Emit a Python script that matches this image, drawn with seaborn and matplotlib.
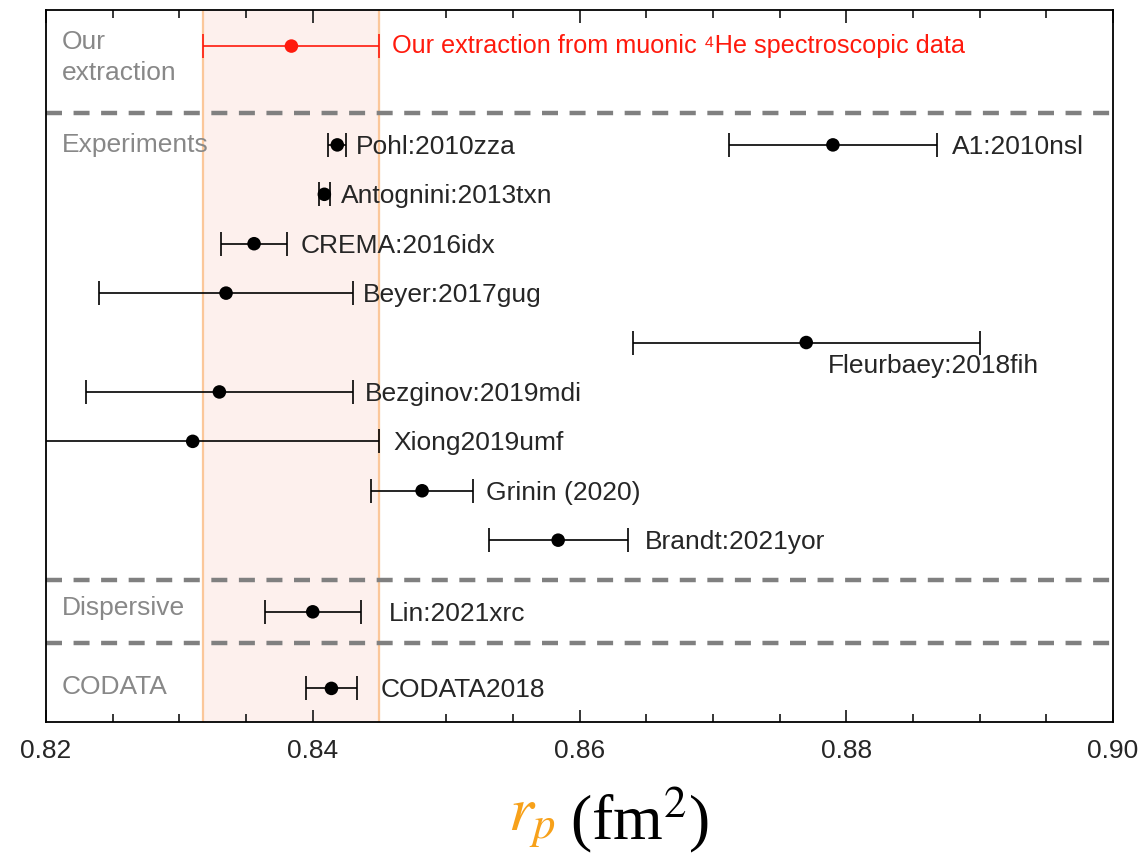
import numpy as np
import pandas as pd
import matplotlib
matplotlib.use("Agg")
import matplotlib.pyplot as plt
import seaborn as sns
from matplotlib.ticker import MultipleLocator

# ---- data ----
names = ["Pohl:2010zza", "A1:2010nsl", "Antognini:2013txn", "CREMA:2016idx",
         "Beyer:2017gug", "Fleurbaey:2018fih", "Bezginov:2019mdi", "Xiong2019umf",
         "Grinin (2020)", "Brandt:2021yor", "Lin:2021xrc", "CODATA2018"]
values = [0.84184, 0.879, 0.84087, 0.8356, 0.8335, 0.877, 0.833, 0.831,
          0.8482, 0.8584, 0.8400, 0.8414]
errors = [0.00067, 0.0078, 0.00039, 0.0025, 0.0095, 0.013, 0.010, 0.014,
          0.0038, 0.0052, 0.0036, 0.0019]
rows = [0, 0, 1, 2, 3, 4, 5, 6, 7, 8, 9.45, 11]

our_value = 0.8384
our_error = 0.0066
our_row = -2
our_label = "Our extraction from muonic \u2074He spectroscopic data"

group_names = ["Our\nextraction", "Experiments", "Dispersive", "CODATA"]
group_rows = [-1.77, 0.0, 9.37, 10.97]
separators = [-0.65, 8.8, 10.08]

xticks = [0.82, 0.84, 0.86, 0.88, 0.90]
xticklabels = ["0.82", "0.84", "0.86", "0.88", "0.90"]

# label offsets in pixels (style)
label_dx = [10, 15, 11, 13, 10, 0, 12, 14, 13, 17, 28, 24]

df = pd.DataFrame({"name": names, "value": values, "err": errors, "row": rows})

sns.set_style("ticks")
plt.rcParams["font.family"] = ["Liberation Sans", "DejaVu Sans"]

FS = 19

fig = plt.figure(figsize=(11.41, 8.63), dpi=100)
ax = fig.add_axes([46/1141, 1-722/863, (1113-46)/1141, (722-10)/863])

# band
ax.axvspan(our_value - our_error, our_value + our_error, color="#fdf0ed", zorder=0)
for xv in (our_value - our_error, our_value + our_error):
    ax.axvline(xv, color="#fbc79a", lw=1.6, zorder=1)

# separators
for s in separators:
    ax.axhline(s, color="#808080", lw=3.2, dashes=(3.6, 2.6), zorder=2)

# error bars
ax.errorbar(df["value"], df["row"], xerr=df["err"], fmt="none", ecolor="black",
            elinewidth=1.2, capsize=8.5, capthick=1.2, zorder=3)
ax.errorbar([our_value], [our_row], xerr=[our_error], fmt="none", ecolor="#ff1a0d",
            elinewidth=1.2, capsize=8.5, capthick=1.2, zorder=3)

sns.scatterplot(data=df, x="value", y="row", color="black", s=95, edgecolor="none",
                ax=ax, zorder=4, legend=False)
sns.scatterplot(x=[our_value], y=[our_row], color="#ff1a0d", s=95, edgecolor="none",
                ax=ax, zorder=4, legend=False)

# labels
for i, r in df.iterrows():
    if r["name"].startswith("Fleurbaey"):
        ax.annotate(r["name"], (r["value"] + r["err"], r["row"]), xytext=(-152*0.72, -23*0.72),
                    textcoords="offset points", ha="left", va="center", fontsize=FS)
    else:
        ax.annotate(r["name"], (r["value"] + r["err"], r["row"]),
                    xytext=(label_dx[i]*0.72, -1.5), textcoords="offset points",
                    ha="left", va="center", fontsize=FS)
ax.annotate(our_label, (our_value + our_error, our_row), xytext=(13*0.72, 0),
            textcoords="offset points", ha="left", va="center", fontsize=18.2,
            color="#ff1a0d")

for g, gr in zip(group_names, group_rows):
    ax.text(0.8212, gr, g, ha="left", va="center", fontsize=FS, color="#888888",
            linespacing=1.35)

ax.set_xlim(0.82, 0.90)
ax.set_ylim(11.68, -2.73)
ax.set_xticks(xticks)
ax.set_xticklabels(xticklabels, fontsize=FS)
ax.xaxis.set_minor_locator(MultipleLocator(0.005))
ax.tick_params(axis="x", which="major", direction="in", length=9, width=1.3,
               top=True, bottom=True, pad=12)
ax.tick_params(axis="x", which="minor", direction="in", length=6, width=1.3,
               top=True, bottom=True)
ax.set_yticks([])
ax.set_ylabel("")
for sp in ax.spines.values():
    sp.set_linewidth(1.3)
    sp.set_color("black")

ax.set_xlabel("")
fig.text(556/1141, 1-820/863, r"$r_p$", color="#f7a11a", fontsize=46, ha="right",
         va="center", math_fontfamily="stix")
fig.text(570/1141, 1-820/863, r"(fm$^2$)", color="black", fontsize=46, ha="left",
         va="center", family="Liberation Serif", math_fontfamily="stix")

fig.savefig("out.png", dpi=100)
